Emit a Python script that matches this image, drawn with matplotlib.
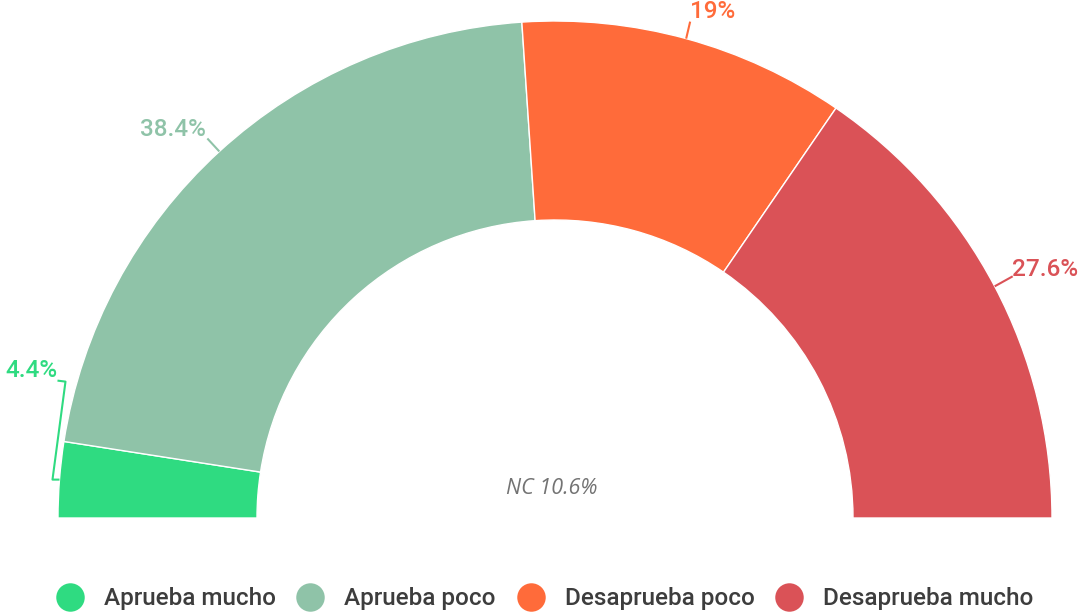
import matplotlib
matplotlib.use("Agg")
import matplotlib.pyplot as plt
from matplotlib.lines import Line2D
import numpy as np

categories = ["Aprueba mucho", "Aprueba poco", "Desaprueba poco", "Desaprueba mucho"]
values = [4.4, 38.4, 19.0, 27.6]
labels = ["4.4%", "38.4%", "19%", "27.6%"]
nc_label = "NC 10.6%"
colors = ["#2fdb81", "#8fc3a8", "#ff6b3a", "#da5257"]

W, H = 1079, 616
fig = plt.figure(figsize=(W / 100, H / 100), dpi=100)
ax = fig.add_axes([0, 0, 1, 1])

cx, cy = 555, H - 518
r_out, r_in = 497, 298

# half donut: add an invisible slice the size of the total for the bottom half
wedges, _ = ax.pie(values + [sum(values)], colors=colors + ["none"],
                   startangle=180, counterclock=False, radius=r_out,
                   center=(cx, cy), frame=True,
                   wedgeprops=dict(width=r_out - r_in, edgecolor="white", linewidth=1))
wedges[-1].set_visible(False)

ax.set_xlim(0, W)
ax.set_ylim(0, H)
ax.set_aspect("auto")
ax.axis("off")

# label offsets (pixels, y down) from outer mid point: leader path + text anchor
layout = [
    dict(path=[(0, 0), (-7, 0), (6, -98), (-2, -99)], txt=(-2, -109), ha="right"),
    dict(path=[(0, 0), (-12, -13)], txt=(-13, -22), ha="right"),
    dict(path=[(0, 0), (4, -17)], txt=(4, -27), ha="left"),
    dict(path=[(0, 0), (18, -10)], txt=(17, -17), ha="left"),
]

for w, lab, col, lay in zip(wedges[:-1], labels, colors, layout):
    mid = np.deg2rad((w.theta1 + w.theta2) / 2)
    mx = cx + r_out * np.cos(mid)
    my = cy + r_out * np.sin(mid)
    px = [mx + p[0] for p in lay["path"]]
    py = [my - p[1] for p in lay["path"]]
    ax.plot(px, py, color=col, lw=1.5, solid_capstyle="butt")
    ax.text(mx + lay["txt"][0], my - lay["txt"][1], lab, color=col,
            ha=lay["ha"], va="center", fontsize=17.5, family="Roboto", weight="medium")

ax.text(cx - 3, cy + 29, nc_label, ha="center", va="center", fontsize=15.5,
        style="italic", color="#737373", family="Open Sans")

handles = [Line2D([], [], marker="o", ls="none", markersize=20.5, color=c,
                  markeredgewidth=0) for c in colors]
fig.legend(handles, categories, loc="center", bbox_to_anchor=(0.505, (H - 599) / H),
           ncol=4, frameon=False, handlelength=1.1, handletextpad=0.85,
           columnspacing=0.88, labelcolor="#3d3d3d",
           prop=dict(family="Roboto", size=17.5, weight="medium"))

fig.savefig("out.png", dpi=100)
